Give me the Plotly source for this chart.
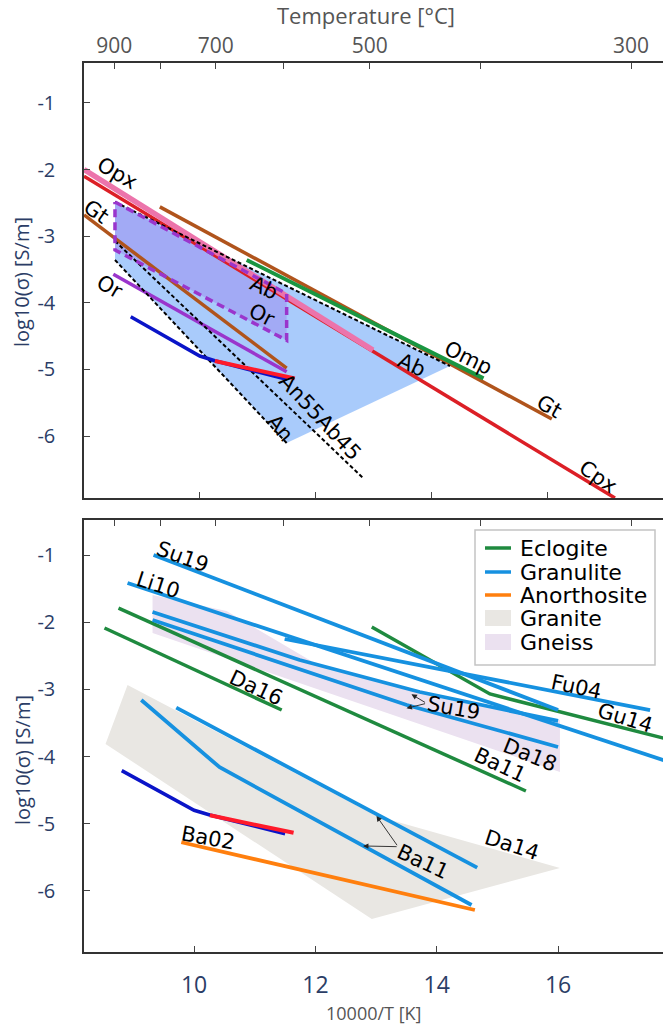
import plotly.graph_objects as go

# ---------------- data: top panel (x = 10000/T [K], y = log10 sigma) ----------------
temp_ticks_C = [900, 800, 700, 600, 500, 400, 300]
temp_ticklabels = ["900", "", "700", "", "500", "", "300"]

cpx_x = [8.0, 17.17];            cpx_y = [-2.10, -6.93]
opx_x = [8.0, 12.99];            opx_y = [-2.00, -4.71]
gt_hi_x = [9.31, 16.08];         gt_hi_y = [-2.56, -5.745]
gt_lo_x = [8.0, 11.50];          gt_lo_y = [-2.68, -4.98]
omp_x = [10.81, 14.90];          omp_y = [-3.357, -5.134]
or_x = [8.506, 11.50];           or_y = [-3.572, -5.035]
dblue_x = [8.807, 10.0, 10.26, 11.50];  dblue_y = [-4.209, -4.799, -4.869, -5.149]
bred_x = [10.26, 11.64];         bred_y = [-4.874, -5.134]
ab_x = [8.535, 14.32];           ab_y = [-2.486, -4.949]
an55_x = [8.535, 12.82];         an55_y = [-3.072, -6.63]
an_x = [8.535, 11.50];           an_y = [-3.357, -6.105]
plag_poly_x = [8.535, 14.32, 11.50, 8.535, 8.535]
plag_poly_y = [-2.486, -4.949, -6.105, -3.357, -2.486]
orpoly_x = [8.535, 11.50, 11.50, 8.535, 8.535]
orpoly_y = [-2.486, -3.862, -4.563, -3.207, -2.486]

top_labels = ["Opx", "Gt", "Or", "Ab", "Or", "An55Ab45", "An", "Ab", "Omp", "Gt", "Cpx"]
top_lab_x = [8.565, 8.219, 8.449, 11.109, 11.069, 12.076, 11.385, 13.66, 14.637, 16.048, 16.883]
top_lab_y = [-2.056, -2.632, -3.758, -3.782, -4.183, -5.71, -5.884, -4.934, -4.833, -5.56, -6.611]
top_lab_ang = [30, 35, 30, 25, 27, 47, 50, 25, 26, 30, 35]

# ---------------- data: bottom panel ----------------
su19_x = [9.332, 16.0];                     su19_y = [-1.0, -3.307]
li10_x = [8.903, 17.9];                     li10_y = [-1.417, -4.10]
fu04_x = [11.493, 17.517];                  fu04_y = [-2.25, -3.307]
su19b_x = [9.315, 11.741, 13.721, 16.0];    su19b_y = [-1.848, -2.563, -3.039, -3.470]
da18_x = [9.315, 11.741, 13.507, 16.0];     da18_y = [-1.967, -2.696, -3.232, -3.857]
ba11u_x = [9.706, 14.667];                  ba11u_y = [-3.272, -5.653]
ba11l_x = [9.129, 10.421, 14.574];          ba11l_y = [-3.158, -4.159, -6.208]
da16_x = [8.523, 11.444];                   da16_y = [-2.086, -3.307]
ba11g_x = [8.754, 15.47];                   ba11g_y = [-1.789, -4.512]
gu14_x = [12.929, 14.876, 17.8];            gu14_y = [-2.071, -3.068, -3.74]
ba02_x = [9.789, 14.629];                   ba02_y = [-5.275, -6.283]
granite_x = [8.540, 8.903, 13.007, 16.031, 12.929, 8.540]
granite_y = [-3.812, -2.935, -4.884, -5.658, -6.417, -3.812]
gneiss_x = [9.315, 10.535, 12.071, 13.721, 16.031, 16.031, 9.315, 9.315]
gneiss_y = [-1.595, -1.833, -2.652, -3.039, -3.455, -4.229, -2.161, -1.595]

bot_labels = ["Su19", "Li10", "Da16", "Su19", "Fu04", "Gu14", "Da18", "Ba11", "Ba11", "Da14", "Ba02"]
bot_lab_x = [9.815, 9.403, 11.026, 14.271, 16.307, 17.104, 15.536, 15.04, 13.776, 15.234, 10.228]
bot_lab_y = [-1.025, -1.446, -2.984, -3.281, -2.96, -3.43, -3.976, -4.125, -5.564, -5.315, -5.216]
bot_lab_ang = [20, 18, 25, 10, 12, 17, 22, 25, 25, 18, 10]

# arrows (head x, head y, tail x, tail y)
arrows = [(13.584, -3.073, 13.832, -3.207), (13.502, -3.281, 13.832, -3.207),
          (13.007, -4.884, 13.363, -5.341), (12.785, -5.33, 13.363, -5.341)]

legend_names = ["Eclogite", "Granulite", "Anorthosite", "Granite", "Gneiss"]
legend_kinds = ["line", "line", "line", "box", "box"]

# ---------------- styles ----------------
C_GRAN = "#1691e0"
C_ECLO = "#1f8a3f"
C_ANOR = "#ff7f0e"
C_GRANITE = "#e9e7e3"
C_GNEISS = "#ebe1f0"
C_BROWN = "#b0541c"
C_RED = "#dc1f26"
C_PINK = "#ec74ab"
C_OMP = "#1a9641"
C_PURP = "#9a35cc"
C_DBLUE = "#0a14c8"
C_BRED = "#ff1a2a"
NAVY = "#2b3d66"
GRAY = "#555555"
legend_colors = [C_ECLO, C_GRAN, C_ANOR, C_GRANITE, C_GNEISS]

fig = go.Figure()

def line(x, y, color, width, xa="x", ya="y", dash=None, name=None):
    fig.add_trace(go.Scatter(x=x, y=y, mode="lines", xaxis=xa, yaxis=ya,
                             line=dict(color=color, width=width, dash=dash),
                             name=name, showlegend=False, hoverinfo="skip"))

def poly(x, y, fill, xa="x", ya="y", name=None):
    fig.add_trace(go.Scatter(x=x, y=y, mode="lines", fill="toself", fillcolor=fill,
                             xaxis=xa, yaxis=ya, line=dict(width=0, color=fill),
                             name=name, showlegend=False, hoverinfo="skip"))

# ---- top panel ----
poly(plag_poly_x, plag_poly_y, "rgba(140,185,250,0.75)")
poly(orpoly_x, orpoly_y, "rgba(150,110,235,0.35)")
line(gt_hi_x, gt_hi_y, C_BROWN, 3.5)
line(gt_lo_x, gt_lo_y, C_BROWN, 3.5)
line(omp_x, omp_y, C_OMP, 4)
line(or_x, or_y, C_PURP, 3.5)
line(cpx_x, cpx_y, C_RED, 3.5)
line(opx_x, opx_y, C_PINK, 5.5)
line(ab_x, ab_y, "black", 2, dash="4px,2.5px")
line(an55_x, an55_y, "black", 2, dash="4px,2.5px")
line(an_x, an_y, "black", 2, dash="4px,2.5px")
line(orpoly_x, orpoly_y, C_PURP, 3.5, dash="8px,5px")
line(dblue_x, dblue_y, C_DBLUE, 3.5)
line(bred_x, bred_y, C_BRED, 4)
fig.add_trace(go.Scatter(x=[8, 18], y=[-7, -7], xaxis="x2", yaxis="y", mode="markers",
                         marker=dict(opacity=0), showlegend=False, hoverinfo="skip"))

# ---- bottom panel ----
poly(granite_x, granite_y, C_GRANITE, "x3", "y2", name="Granite")
poly(gneiss_x, gneiss_y, C_GNEISS, "x3", "y2", name="Gneiss")
for xs, ys in [(da16_x, da16_y), (ba11g_x, ba11g_y), (gu14_x, gu14_y)]:
    line(xs, ys, C_ECLO, 3.5, "x3", "y2", name="Eclogite")
for xs, ys in [(su19_x, su19_y), (li10_x, li10_y), (fu04_x, fu04_y), (su19b_x, su19b_y),
               (da18_x, da18_y), (ba11u_x, ba11u_y), (ba11l_x, ba11l_y)]:
    line(xs, ys, C_GRAN, 3.8, "x3", "y2", name="Granulite")
line(ba02_x, ba02_y, C_ANOR, 3.8, "x3", "y2", name="Anorthosite")
line(dblue_x, dblue_y, C_DBLUE, 3.5, "x3", "y2")
line(bred_x, bred_y, C_BRED, 4, "x3", "y2")
fig.add_trace(go.Scatter(x=[8, 18], y=[-7, -7], xaxis="x4", yaxis="y2", mode="markers",
                         marker=dict(opacity=0), showlegend=False, hoverinfo="skip"))

# ---------------- annotations ----------------
ann = []
shapes = []
LABFONT = dict(family="DejaVu Sans", size=21, color="black")
for t, x, y, a in zip(top_labels, top_lab_x, top_lab_y, top_lab_ang):
    ann.append(dict(text=t, x=x, y=y, xref="x", yref="y", textangle=a, showarrow=False,
                    font=LABFONT, xanchor="center", yanchor="middle"))
for t, x, y, a in zip(bot_labels, bot_lab_x, bot_lab_y, bot_lab_ang):
    ann.append(dict(text=t, x=x, y=y, xref="x3", yref="y2", textangle=a, showarrow=False,
                    font=LABFONT, xanchor="center", yanchor="middle"))
for hx, hy, tx, ty in arrows:
    ann.append(dict(text="", x=hx, y=hy, ax=tx, ay=ty, xref="x3", yref="y2",
                    axref="x3", ayref="y2", showarrow=True, arrowhead=2, arrowsize=1.2,
                    arrowwidth=0.9, arrowcolor="#222"))

PW = 663 - 84
def px2paper(px, py):
    return (px - 84) / PW, 1 - py / 1029

ax_t = px2paper(366, 15)
ann.append(dict(text="Temperature [°C]", x=ax_t[0], y=ax_t[1], xref="paper", yref="paper",
                xanchor="center", yanchor="middle", showarrow=False,
                font=dict(family="Open Sans", size=22, color=GRAY)))
ax_b = px2paper(373, 1013)
ann.append(dict(text="10000/T [K]", x=ax_b[0], y=ax_b[1], xref="paper", yref="paper",
                xanchor="center", yanchor="middle", showarrow=False,
                font=dict(family="Open Sans", size=18, color=GRAY)))
for pyc in (282, 760):
    p = px2paper(22, pyc)
    ann.append(dict(text="log10(σ) [S/m]", x=p[0], y=p[1], xref="paper", yref="paper",
                    xanchor="center", yanchor="middle", textangle=-90, showarrow=False,
                    font=dict(family="Open Sans", size=20, color=NAVY)))

# ---- legend box (drawn in paper space) ----
bx0, by0 = px2paper(475, 530)
bx1, by1 = px2paper(655, 665)
shapes.append(dict(type="rect", xref="paper", yref="paper", x0=bx0, y0=by1, x1=bx1, y1=by0,
                   line=dict(color="#c4c4c4", width=1.5), fillcolor="white", layer="above"))
row_y = [548, 572, 595, 618, 642]
for name, kind, col, ry in zip(legend_names, legend_kinds, legend_colors, row_y):
    if kind == "line":
        a0 = px2paper(485, ry); a1 = px2paper(511, ry)
        shapes.append(dict(type="line", xref="paper", yref="paper", x0=a0[0], y0=a0[1],
                           x1=a1[0], y1=a1[1], line=dict(color=col, width=3.5), layer="above"))
    else:
        a0 = px2paper(485, ry - 8); a1 = px2paper(511, ry + 8)
        shapes.append(dict(type="rect", xref="paper", yref="paper", x0=a0[0], y0=a1[1],
                           x1=a1[0], y1=a0[1], line=dict(width=0), fillcolor=col, layer="above"))
    tp = px2paper(518, ry)
    ann.append(dict(text=name, x=tp[0], y=tp[1], xref="paper", yref="paper",
                    xanchor="left", yanchor="middle", showarrow=False,
                    font=dict(family="DejaVu Sans", size=22, color="black")))

temp_pos = [10000.0 / (t + 273.15) for t in temp_ticks_C]
ytv = [-1, -2, -3, -4, -5, -6]
ytt = ["-1", "-2", "-3", "-4", "-5", "-6"]

top_dom = [1 - 498 / 1029, 1 - 63 / 1029]
bot_dom = [1 - 952 / 1029, 1 - 520 / 1029]
AXLINE = dict(showline=True, linecolor="#333", linewidth=1.5, showgrid=False, zeroline=False,
              ticks="inside", ticklen=6, tickcolor="#444", tickwidth=1.2)

fig.update_layout(
    width=663, height=1029,
    margin=dict(l=84, r=0, t=0, b=0),
    plot_bgcolor="white", paper_bgcolor="white",
    showlegend=False,
    xaxis=dict(domain=[0, 1], anchor="y", range=[8, 18], tickvals=[10, 12, 14, 16],
               showticklabels=False, **AXLINE),
    xaxis2=dict(domain=[0, 1], anchor="y", overlaying="x", side="top", range=[8, 18],
                tickvals=temp_pos, ticktext=temp_ticklabels, ticklabelstandoff=0,
                tickfont=dict(family="Open Sans", size=21, color=GRAY), **AXLINE),
    yaxis=dict(domain=top_dom, anchor="x", range=[-6.93, -0.4], tickvals=ytv, ticktext=ytt,
               ticklabelstandoff=23, tickfont=dict(family="Open Sans", size=20, color=NAVY), **AXLINE),
    xaxis3=dict(domain=[0, 1], anchor="y2", range=[8.185, 17.73], tickvals=[10, 12, 14, 16],
                ticktext=["10", "12", "14", "16"], ticklabelstandoff=12,
                tickfont=dict(family="Open Sans", size=23, color=NAVY), **AXLINE),
    xaxis4=dict(domain=[0, 1], anchor="y2", overlaying="x3", side="top", range=[8, 18],
                tickvals=temp_pos, showticklabels=False, **AXLINE),
    yaxis2=dict(domain=bot_dom, anchor="x3", range=[-6.908, -0.479], tickvals=ytv, ticktext=ytt,
                ticklabelstandoff=23, tickfont=dict(family="Open Sans", size=20, color=NAVY), **AXLINE),
    annotations=ann,
    shapes=shapes,
)

fig.write_html("out.html", config={"displayModeBar": False},
               post_script="document.body.style.margin='0px';document.body.style.overflow='hidden';")
